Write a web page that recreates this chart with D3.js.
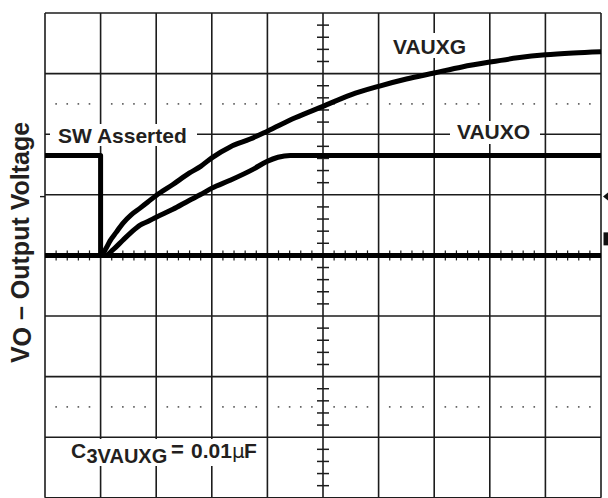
<!DOCTYPE html>
<html>
<head>
<meta charset="utf-8">
<script src="https://cdn.jsdelivr.net/npm/d3@7"></script>
<style>
  html, body { margin: 0; padding: 0; background: #fff; }
  svg { display: block; }
  text { font-family: "Liberation Sans", Arial, Helvetica, sans-serif; font-weight: bold; fill: #231f20; }
</style>
</head>
<body>
<svg id="chart" width="608" height="498"></svg>
<script>
// ---- Data (time and voltage in screen divisions; baseline = 0) ----
const swTime   = [0, 1.0, 1.0, 10];
const swVolt   = [1.65, 1.65, 0, 0];

const vauxgTime = [0, 1.0, 1.1, 1.17, 1.28, 1.4, 1.55, 1.71, 1.85, 2.0, 2.3, 2.6, 2.8, 3.0, 3.33, 3.69, 4.0, 4.5, 5.0, 5.5, 6.0, 6.5, 7.0, 7.5, 8.0, 8.5, 9.0, 9.5, 10];
const vauxgVolt = [0, 0, 0.12, 0.24, 0.38, 0.53, 0.67, 0.78, 0.88, 0.99, 1.17, 1.36, 1.47, 1.61, 1.79, 1.92, 2.05, 2.27, 2.46, 2.65, 2.79, 2.91, 3.01, 3.11, 3.19, 3.26, 3.31, 3.34, 3.36];

const vauxoTime = [0, 1.09, 1.22, 1.4, 1.55, 1.71, 1.85, 2.0, 2.3, 2.6, 2.79, 3.0, 3.33, 3.74, 3.99, 4.19, 4.41, 10];
const vauxoVolt = [0, 0, 0.09, 0.25, 0.38, 0.50, 0.56, 0.63, 0.76, 0.91, 1.00, 1.11, 1.24, 1.42, 1.55, 1.62, 1.65, 1.65];

const xDivisions = d3.range(0, 11);     // 10 horizontal divisions
const yDivisions = d3.range(-4, 5);     // 8 vertical divisions
const dottedLevels = [2.5, -2.5];

const labelSW = "SW Asserted";
const labelG = "VAUXG";
const labelO = "VAUXO";
const axisLabel = ["V", "O", " – Output Voltage"];
const capLabel = ["C", "3VAUXG", "=", "0.01", "µ", "F"];

// ---- Scales ----
const svg = d3.select("#chart");
const x = d3.scaleLinear().domain([0, 10]).range([45, 601]);
const y = d3.scaleLinear().domain([-4, 4]).range([497.8, 13]);

const gridColor = "#1c1c1c";

// Grid
const grid = svg.append("g");
grid.selectAll("line.v").data(xDivisions).join("line")
  .attr("x1", d => x(d)).attr("x2", d => x(d))
  .attr("y1", y(4)).attr("y2", y(-4))
  .attr("stroke", gridColor).attr("stroke-width", 1.6);
grid.selectAll("line.h").data(yDivisions).join("line")
  .attr("x1", x(0)).attr("x2", x(10))
  .attr("y1", d => y(d)).attr("y2", d => y(d))
  .attr("stroke", gridColor).attr("stroke-width", 1.6);

// Minor ticks on center axes
const minorY = d3.range(-4, 4.001, 0.2).filter(d => Math.abs(d - Math.round(d)) > 1e-6);
grid.selectAll("line.ty").data(minorY).join("line")
  .attr("x1", x(5) - 6).attr("x2", x(5) + 6)
  .attr("y1", d => y(d)).attr("y2", d => y(d))
  .attr("stroke", gridColor).attr("stroke-width", 1.5);
const minorX = d3.range(0, 10.001, 0.2).filter(d => Math.abs(d - Math.round(d)) > 1e-6);
grid.selectAll("line.tx").data(minorX).join("line")
  .attr("x1", d => x(d)).attr("x2", d => x(d))
  .attr("y1", y(0) - 5).attr("y2", y(0) + 5)
  .attr("stroke", gridColor).attr("stroke-width", 1.2);

// Dotted lines
dottedLevels.forEach(lv => {
  grid.selectAll(null).data(minorX).join("rect")
    .attr("x", d => x(d) - 0.8).attr("y", y(lv) - 0.8)
    .attr("width", 1.6).attr("height", 1.6)
    .attr("fill", "#555");
});

// Markers at edges
grid.append("line").attr("x1", 40).attr("x2", x(0)).attr("y1", y(0.97)).attr("y2", y(0.97))
  .attr("stroke", gridColor).attr("stroke-width", 1.4);
grid.append("path")
  .attr("d", `M${x(10) + 2},${y(0.97)} L608,${y(0.97) - 4} L608,${y(0.97) + 4} Z`)
  .attr("fill", "#111");
grid.append("rect").attr("x", 603.5).attr("y", y(0.38)).attr("width", 4.5).attr("height", 13)
  .attr("fill", "#111");

// Traces
const line = d3.line().x(d => x(d[0])).y(d => y(d[1])).curve(d3.curveMonotoneX);
const lineLin = d3.line().x(d => x(d[0])).y(d => y(d[1]));
const traces = svg.append("g").attr("fill", "none").attr("stroke", "#000")
  .attr("stroke-linejoin", "round");
traces.append("path").datum(d3.zip(swTime, swVolt)).attr("d", lineLin).attr("stroke-width", 5);
traces.append("path").datum(d3.zip(vauxoTime, vauxoVolt)).attr("d", line).attr("stroke-width", 5);
traces.append("path").datum(d3.zip(vauxgTime, vauxgVolt)).attr("d", line).attr("stroke-width", 5);

// Labels with white backgrounds
const lab = svg.append("g");
lab.append("rect").attr("x", 50).attr("y", 124).attr("width", 147).attr("height", 22).attr("fill", "#fff");
lab.append("text").attr("x", 58).attr("y", 143).attr("font-size", 21).text(labelSW);

lab.append("rect").attr("x", 450).attr("y", 121).attr("width", 90).attr("height", 23).attr("fill", "#fff");
lab.append("text").attr("x", 457).attr("y", 138.5).attr("font-size", 21).text(labelO);

lab.append("rect").attr("x", 389).attr("y", 33).attr("width", 84).attr("height", 25).attr("fill", "#fff");
lab.append("text").attr("x", 393).attr("y", 53.5).attr("font-size", 21).text(labelG);

lab.append("rect").attr("x", 46).attr("y", 439).attr("width", 220).attr("height", 27).attr("fill", "#fff");
const cap = lab.append("text").attr("y", 458).attr("font-size", 20);
cap.append("tspan").attr("x", 71).attr("font-size", 21).text(capLabel[0]);
cap.append("tspan").attr("x", 86.5).attr("dy", 5).text(capLabel[1]);
cap.append("tspan").attr("x", 171).attr("dy", -6).attr("font-size", 22).text(capLabel[2]);
cap.append("tspan").attr("x", 191).attr("dy", 1).attr("font-size", 21).text(capLabel[3]);
cap.append("tspan").attr("x", 232).attr("font-weight", "normal").attr("font-family", "DejaVu Sans, sans-serif").text(capLabel[4]);
cap.append("tspan").attr("x", 244).attr("font-size", 21).text(capLabel[5]);

// Y axis title
const yt = svg.append("text")
  .attr("transform", "translate(28.5,242.5) rotate(-90)")
  .attr("text-anchor", "middle").attr("font-size", 25);
yt.append("tspan").text(axisLabel[0]);
yt.append("tspan").attr("dy", 2).text(axisLabel[1]);
yt.append("tspan").attr("dy", -2).text(axisLabel[2]);
</script>
</body>
</html>
